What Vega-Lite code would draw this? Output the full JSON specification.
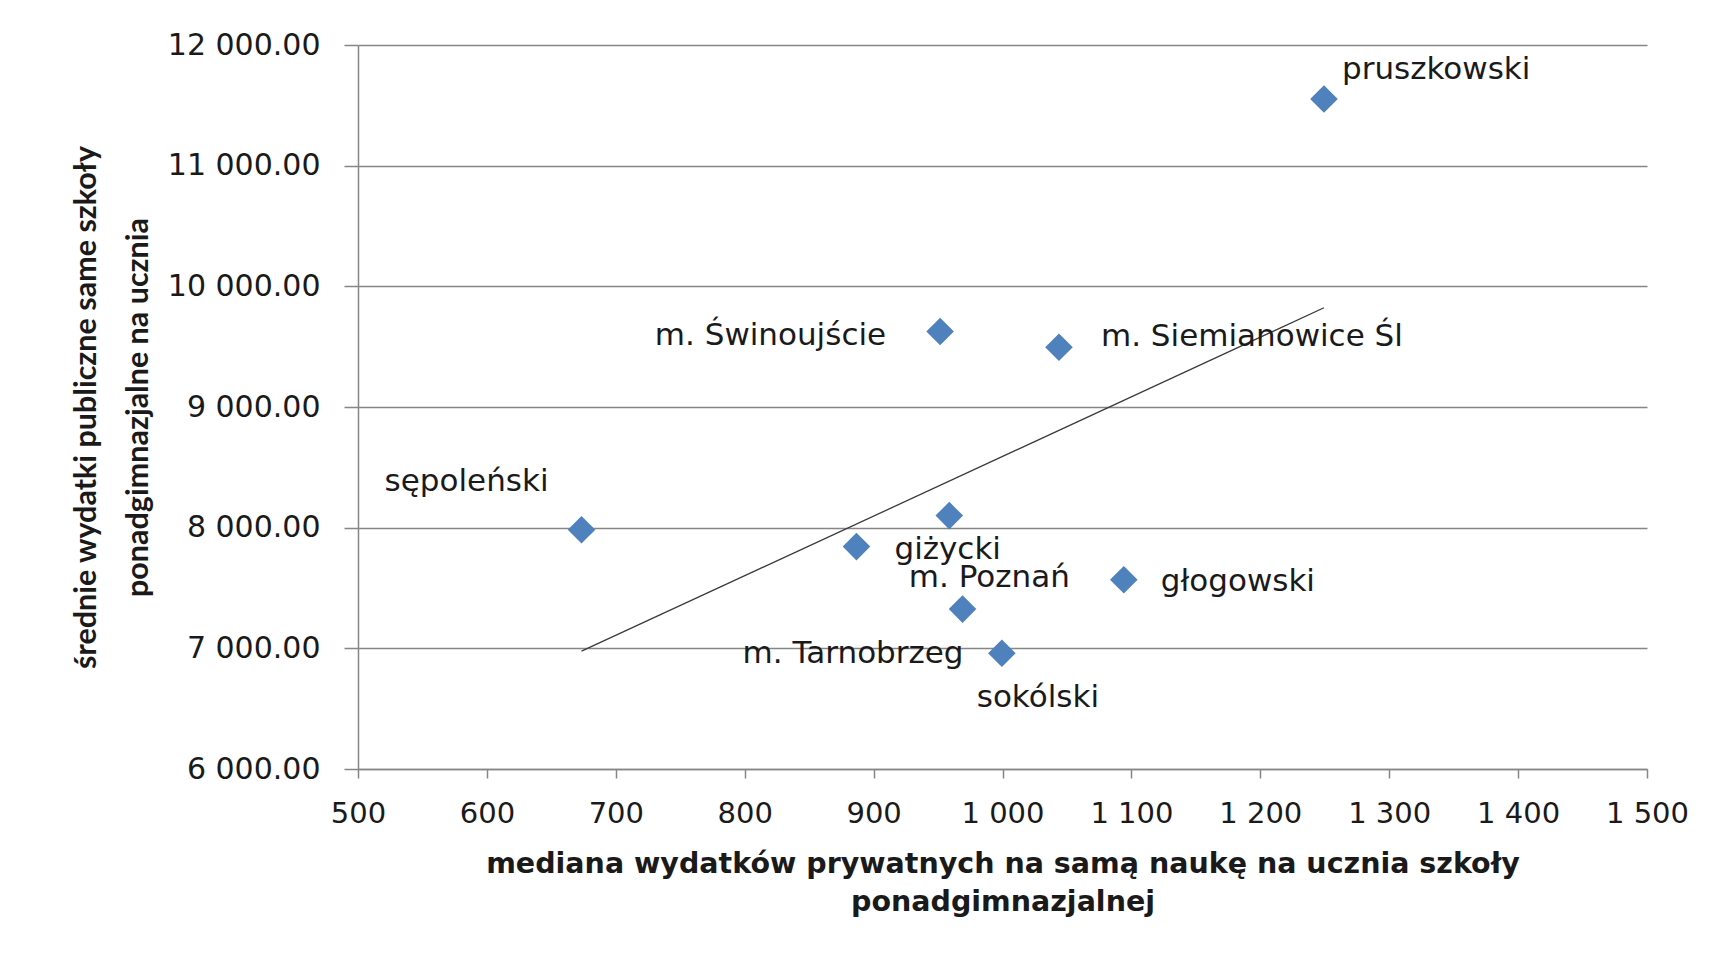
{
  "$schema": "https://vega.github.io/schema/vega-lite/v6.json",
  "autosize": {"type": "none"},
  "width": 1289,
  "height": 724,
  "padding": {"left": 358, "top": 45, "right": 72, "bottom": 185},
  "background": "white",
  "config": {
    "view": {"stroke": null},
    "axis": {
      "labelFont": "DejaVu Sans",
      "labelFontSize": 29,
      "labelColor": "#1a1a1a",
      "titleFont": "DejaVu Sans",
      "titleFontWeight": "bold",
      "titleColor": "#1a1a1a",
      "domainColor": "#868686",
      "domainWidth": 1.5,
      "tickColor": "#868686",
      "tickWidth": 1.5,
      "gridColor": "#868686",
      "gridWidth": 1.3
    }
  },
  "data": {
    "values": [
      {"name": "pruszkowski", "x": 1249.4, "y": 11553},
      {"name": "m. Świnoujście", "x": 951.6, "y": 9625},
      {"name": "m. Siemianowice Śl", "x": 1043.8, "y": 9495},
      {"name": "sępoleński", "x": 673.4, "y": 7982},
      {"name": "giżycki", "x": 886.7, "y": 7843},
      {"name": "m. Poznań", "x": 958.7, "y": 8100},
      {"name": "m. Tarnobrzeg", "x": 969, "y": 7325},
      {"name": "sokólski", "x": 999.5, "y": 6960},
      {"name": "głogowski", "x": 1094.1, "y": 7568}
    ]
  },
  "encoding": {
    "x": {
      "field": "x",
      "type": "quantitative",
      "scale": {"domain": [500, 1500], "nice": false, "zero": false},
      "axis": {
        "values": [500, 600, 700, 800, 900, 1000, 1100, 1200, 1300, 1400, 1500],
        "labelExpr": "replace(format(datum.value, ','), ',', ' ')",
        "labelFlush": false,
        "labelOverlap": false,
        "grid": false,
        "tickSize": 9,
        "labelPadding": 21,
        "title": ["mediana wydatków prywatnych na samą naukę  na ucznia szkoły", "ponadgimnazjalnej"],
        "titleFontSize": 28.5,
        "titleLineHeight": 38,
        "titlePadding": 21
      }
    },
    "y": {
      "field": "y",
      "type": "quantitative",
      "scale": {"domain": [6000, 12000], "nice": false, "zero": false},
      "axis": {
        "values": [6000, 7000, 8000, 9000, 10000, 11000, 12000],
        "labelExpr": "replace(format(datum.value, ',.2f'), ',', ' ')",
        "labelFontSize": 30,
        "labelOverlap": false,
        "grid": true,
        "tickSize": 14,
        "labelPadding": 24,
        "title": ["średnie wydatki publiczne same szkoły", "ponadgimnazjalne na ucznia"],
        "titleFont": "Lato",
        "titleFontSize": 30.5,
        "titleLineHeight": 52,
        "titlePadding": 14
      }
    }
  },
  "layer": [
    {
      "mark": {"type": "point", "shape": "diamond", "filled": true, "color": "#4F81BD", "opacity": 1, "size": 760}
    },
    {
      "transform": [{"regression": "y", "on": "x"}],
      "mark": {"type": "line", "color": "#3a3a3a", "strokeWidth": 1.3}
    },
    {
      "transform": [{"filter": {"field": "name", "oneOf": ["pruszkowski"]}}],
      "mark": {"type": "text", "font": "DejaVu Sans", "fontSize": 31, "color": "#1a1a1a", "align": "left", "baseline": "alphabetic", "dx": 18, "dy": -20},
      "encoding": {"text": {"field": "name"}}
    },
    {
      "transform": [{"filter": {"field": "name", "oneOf": ["m. Świnoujście"]}}],
      "mark": {"type": "text", "font": "DejaVu Sans", "fontSize": 31, "color": "#1a1a1a", "align": "right", "baseline": "alphabetic", "dx": -54, "dy": 13},
      "encoding": {"text": {"field": "name"}}
    },
    {
      "transform": [{"filter": {"field": "name", "oneOf": ["m. Siemianowice Śl"]}}],
      "mark": {"type": "text", "font": "DejaVu Sans", "fontSize": 31, "color": "#1a1a1a", "align": "left", "baseline": "alphabetic", "dx": 42, "dy": -1},
      "encoding": {"text": {"field": "name"}}
    },
    {
      "transform": [{"filter": {"field": "name", "oneOf": ["sępoleński"]}}],
      "mark": {"type": "text", "font": "DejaVu Sans", "fontSize": 31, "color": "#1a1a1a", "align": "right", "baseline": "alphabetic", "dx": -33, "dy": -39},
      "encoding": {"text": {"field": "name"}}
    },
    {
      "transform": [{"filter": {"field": "name", "oneOf": ["giżycki"]}}],
      "mark": {"type": "text", "font": "DejaVu Sans", "fontSize": 31, "color": "#1a1a1a", "align": "left", "baseline": "alphabetic", "dx": 38, "dy": 12},
      "encoding": {"text": {"field": "name"}}
    },
    {
      "transform": [{"filter": {"field": "name", "oneOf": ["głogowski"]}}],
      "mark": {"type": "text", "font": "DejaVu Sans", "fontSize": 31, "color": "#1a1a1a", "align": "left", "baseline": "alphabetic", "dx": 37, "dy": 11},
      "encoding": {"text": {"field": "name"}}
    },
    {
      "transform": [{"filter": {"field": "name", "oneOf": ["m. Poznań"]}}],
      "mark": {"type": "text", "font": "DejaVu Sans", "fontSize": 31, "color": "#1a1a1a", "align": "center", "baseline": "alphabetic", "dx": 40, "dy": 71},
      "encoding": {"text": {"field": "name"}}
    },
    {
      "transform": [{"filter": {"field": "name", "oneOf": ["m. Tarnobrzeg"]}}],
      "mark": {"type": "text", "font": "DejaVu Sans", "fontSize": 31, "color": "#1a1a1a", "align": "right", "baseline": "alphabetic", "dx": 1, "dy": 54},
      "encoding": {"text": {"field": "name"}}
    },
    {
      "transform": [{"filter": {"field": "name", "oneOf": ["sokólski"]}}],
      "mark": {"type": "text", "font": "DejaVu Sans", "fontSize": 31, "color": "#1a1a1a", "align": "center", "baseline": "alphabetic", "dx": 36, "dy": 54},
      "encoding": {"text": {"field": "name"}}
    }
  ]
}
